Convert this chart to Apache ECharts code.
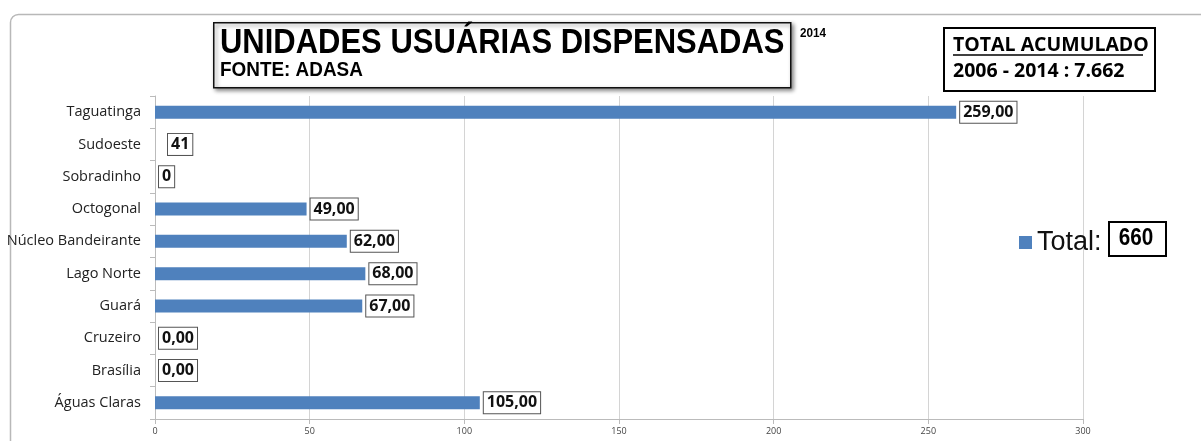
<!DOCTYPE html>
<html>
<head>
<meta charset="utf-8">
<script src="https://cdn.jsdelivr.net/npm/echarts@6/dist/echarts.min.js"></script>
<style>
  html, body { margin: 0; padding: 0; background: #fff; }
  #root { width: 1201px; height: 441px; }
</style>
</head>
<body>
<div id="root"></div>
<script>
// categories, bottom to top as in the original sheet
const regions = ['Águas Claras', 'Brasília', 'Cruzeiro', 'Guará', 'Lago Norte',
  'Núcleo Bandeirante', 'Octogonal', 'Sobradinho', 'Sudoeste', 'Taguatinga']
const values = [105, 0, 0, 67, 68, 62, 49, 0, 0, 259]
// labels as typed in the source (Sudoeste shows 41 with no bar)
const labels = ['105,00', '0,00', '0,00', '67,00', '68,00', '62,00', '49,00', '0', '41', '259,00']
const xTicks = [0, 50, 100, 150, 200, 250, 300]
const totalYear = '660'

const myChart = echarts.init(document.getElementById('root'))

const serif = '"Open Sans", "Liberation Sans", sans-serif'
const narrow = '"Liberation Sans", Arial, sans-serif'

const option = {
  animation: false,
  backgroundColor: '#fff',
  grid: { left: 155, right: 118, top: 96, bottom: 22 },
  legend: {
    left: 1014, top: 224,
    itemWidth: 13, itemHeight: 13, itemGap: 6,
    icon: 'rect',
    textStyle: { fontFamily: 'Liberation Sans, Arial', fontSize: 27, color: '#111' },
    formatter: () => 'Total:',
    data: ['Total']
  },
  xAxis: {
    type: 'value',
    min: xTicks[0], max: xTicks[xTicks.length - 1], interval: 50,
    axisLine: { show: true, lineStyle: { color: '#bbb' } },
    axisTick: { show: true, length: 5, lineStyle: { color: '#bbb' } },
    axisLabel: { fontSize: 9, color: '#444', fontFamily: serif, margin: 8 },
    splitLine: { lineStyle: { color: '#d4d4d4' } }
  },
  yAxis: {
    type: 'category',
    data: regions,
    axisLine: { show: true, lineStyle: { color: '#bbb' } },
    axisTick: { show: true, length: 5, lineStyle: { color: '#bbb' } },
    axisLabel: { fontSize: 14.5, color: '#222', fontFamily: serif, margin: 14 }
  },
  series: [{
    name: 'Total',
    type: 'bar',
    barWidth: 13,
    itemStyle: { color: '#4f81bd' },
    data: values.map((v, i) => ({
      value: v,
      label: regions[i] === 'Sudoeste' ? { offset: [9, 0] } : {}
    })),
    label: {
      show: true,
      position: 'right',
      distance: 4,
      formatter: p => labels[p.dataIndex],
      fontFamily: serif,
      fontWeight: 'bold',
      fontSize: 16,
      color: '#111',
      backgroundColor: '#fff',
      borderColor: '#555',
      borderWidth: 1,
      padding: [3, 3, 2, 3]
    }
  }],
  graphic: [
    // outer chart frame
    {
      type: 'rect', left: 8, top: 12, z: -10,
      shape: { width: 1210, height: 440, r: 8 },
      style: { fill: 'none', stroke: '#b8b8b8', lineWidth: 1.5 }
    },
    // title box with shadow
    {
      type: 'rect', left: 213, top: 22,
      shape: { width: 577, height: 65 },
      style: { fill: '#fff', stroke: '#111', lineWidth: 1.5, shadowBlur: 4, shadowOffsetX: 2, shadowOffsetY: 2, shadowColor: 'rgba(0,0,0,0.45)' }
    },
    {
      type: 'text', x: 220, y: 26, scaleX: 0.885,
      style: { text: 'UNIDADES USUÁRIAS DISPENSADAS', font: 'bold 35px ' + narrow, fill: '#000' }
    },
    {
      type: 'text', x: 220, y: 60, scaleX: 0.9,
      style: { text: 'FONTE: ADASA', font: 'bold 21px ' + narrow, fill: '#000' }
    },
    {
      type: 'text', x: 800, y: 27, scaleX: 0.9,
      style: { text: '2014', font: 'bold 13px ' + narrow, fill: '#000' }
    },
    // accumulated total box
    {
      type: 'rect', left: 943, top: 27,
      shape: { width: 211, height: 63 },
      style: { fill: '#fff', stroke: '#000', lineWidth: 2 }
    },
    {
      type: 'text', left: 953, top: 35,
      style: { text: 'TOTAL ACUMULADO', font: 'bold 19.5px ' + serif, fill: '#000' }
    },
    {
      type: 'line', shape: { x1: 953, y1: 55, x2: 1143, y2: 55 },
      style: { stroke: '#000', lineWidth: 1.5 }
    },
    {
      type: 'text', left: 953, top: 61,
      style: { text: '2006 - 2014 : 7.662', font: 'bold 19.5px ' + serif, fill: '#000' }
    },
    // legend total
    {
      type: 'rect', left: 1108, top: 221,
      shape: { width: 57, height: 34 },
      style: { fill: '#fff', stroke: '#000', lineWidth: 2 }
    },
    {
      type: 'text', x: 1136, y: 239, scaleX: 0.9,
      style: { text: totalYear, font: 'bold 23px ' + narrow, fill: '#000', align: 'center', verticalAlign: 'middle' }
    }
  ]
}

myChart.setOption(option)
</script>
</body>
</html>
